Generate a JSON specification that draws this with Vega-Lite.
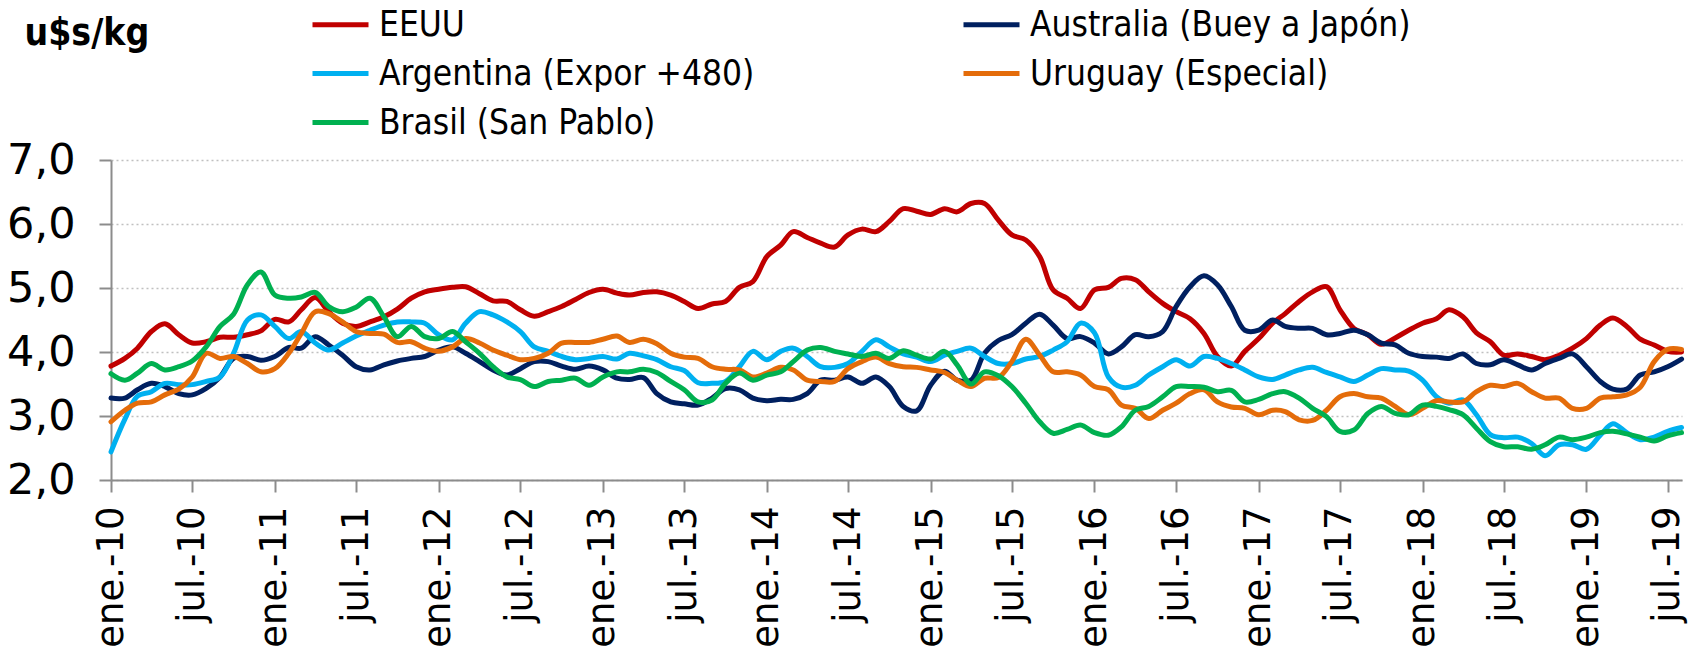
{
  "$schema": "https://vega.github.io/schema/vega-lite/v6.json",
  "width": 1571,
  "height": 320,
  "autosize": {"type": "none"},
  "padding": {"left": 111, "top": 160, "right": 16, "bottom": 174},
  "background": "white",
  "config": {"view": {"stroke": null}},
  "data": {"values": [
    {"d":"2010-01","E":3.78,"AR":2.44,"BR":3.66,"AU":3.28,"UY":2.91},
    {"d":"2010-02","E":3.90,"AR":2.95,"BR":3.56,"AU":3.28,"UY":3.09},
    {"d":"2010-03","E":4.06,"AR":3.31,"BR":3.67,"AU":3.41,"UY":3.20},
    {"d":"2010-04","E":4.32,"AR":3.38,"BR":3.82,"AU":3.51,"UY":3.22},
    {"d":"2010-05","E":4.44,"AR":3.51,"BR":3.72,"AU":3.46,"UY":3.33},
    {"d":"2010-06","E":4.27,"AR":3.49,"BR":3.77,"AU":3.35,"UY":3.42},
    {"d":"2010-07","E":4.14,"AR":3.49,"BR":3.86,"AU":3.33,"UY":3.61},
    {"d":"2010-08","E":4.16,"AR":3.54,"BR":4.08,"AU":3.43,"UY":3.98},
    {"d":"2010-09","E":4.23,"AR":3.61,"BR":4.40,"AU":3.61,"UY":3.90},
    {"d":"2010-10","E":4.23,"AR":3.98,"BR":4.59,"AU":3.90,"UY":3.93},
    {"d":"2010-11","E":4.27,"AR":4.50,"BR":5.05,"AU":3.93,"UY":3.82},
    {"d":"2010-12","E":4.33,"AR":4.58,"BR":5.25,"AU":3.87,"UY":3.69},
    {"d":"2011-01","E":4.51,"AR":4.40,"BR":4.89,"AU":3.93,"UY":3.74},
    {"d":"2011-02","E":4.47,"AR":4.21,"BR":4.84,"AU":4.07,"UY":3.98},
    {"d":"2011-03","E":4.66,"AR":4.32,"BR":4.86,"AU":4.06,"UY":4.29},
    {"d":"2011-04","E":4.85,"AR":4.14,"BR":4.93,"AU":4.24,"UY":4.63},
    {"d":"2011-05","E":4.63,"AR":4.03,"BR":4.71,"AU":4.11,"UY":4.60},
    {"d":"2011-06","E":4.45,"AR":4.14,"BR":4.63,"AU":3.95,"UY":4.47},
    {"d":"2011-07","E":4.40,"AR":4.25,"BR":4.70,"AU":3.77,"UY":4.32},
    {"d":"2011-08","E":4.47,"AR":4.34,"BR":4.84,"AU":3.72,"UY":4.29},
    {"d":"2011-09","E":4.55,"AR":4.42,"BR":4.55,"AU":3.80,"UY":4.28},
    {"d":"2011-10","E":4.67,"AR":4.47,"BR":4.24,"AU":3.86,"UY":4.15},
    {"d":"2011-11","E":4.84,"AR":4.47,"BR":4.40,"AU":3.90,"UY":4.16},
    {"d":"2011-12","E":4.94,"AR":4.45,"BR":4.24,"AU":3.93,"UY":4.06},
    {"d":"2012-01","E":4.98,"AR":4.27,"BR":4.21,"AU":4.03,"UY":4.01},
    {"d":"2012-02","E":5.01,"AR":4.19,"BR":4.32,"AU":4.08,"UY":4.08},
    {"d":"2012-03","E":5.02,"AR":4.45,"BR":4.16,"AU":3.98,"UY":4.21},
    {"d":"2012-04","E":4.91,"AR":4.63,"BR":3.98,"AU":3.85,"UY":4.14},
    {"d":"2012-05","E":4.80,"AR":4.58,"BR":3.77,"AU":3.72,"UY":4.03},
    {"d":"2012-06","E":4.79,"AR":4.47,"BR":3.61,"AU":3.64,"UY":3.95},
    {"d":"2012-07","E":4.66,"AR":4.32,"BR":3.57,"AU":3.74,"UY":3.88},
    {"d":"2012-08","E":4.56,"AR":4.08,"BR":3.46,"AU":3.85,"UY":3.90},
    {"d":"2012-09","E":4.63,"AR":4.01,"BR":3.54,"AU":3.85,"UY":3.98},
    {"d":"2012-10","E":4.71,"AR":3.93,"BR":3.56,"AU":3.78,"UY":4.14},
    {"d":"2012-11","E":4.82,"AR":3.88,"BR":3.59,"AU":3.73,"UY":4.15},
    {"d":"2012-12","E":4.93,"AR":3.90,"BR":3.48,"AU":3.78,"UY":4.15},
    {"d":"2013-01","E":4.98,"AR":3.93,"BR":3.61,"AU":3.72,"UY":4.20},
    {"d":"2013-02","E":4.92,"AR":3.89,"BR":3.69,"AU":3.59,"UY":4.25},
    {"d":"2013-03","E":4.89,"AR":3.98,"BR":3.69,"AU":3.57,"UY":4.15},
    {"d":"2013-04","E":4.93,"AR":3.94,"BR":3.73,"AU":3.60,"UY":4.20},
    {"d":"2013-05","E":4.94,"AR":3.88,"BR":3.68,"AU":3.35,"UY":4.13},
    {"d":"2013-06","E":4.89,"AR":3.77,"BR":3.54,"AU":3.22,"UY":3.98},
    {"d":"2013-07","E":4.79,"AR":3.71,"BR":3.41,"AU":3.19,"UY":3.92},
    {"d":"2013-08","E":4.68,"AR":3.52,"BR":3.22,"AU":3.17,"UY":3.90},
    {"d":"2013-09","E":4.75,"AR":3.51,"BR":3.25,"AU":3.28,"UY":3.77},
    {"d":"2013-10","E":4.79,"AR":3.54,"BR":3.51,"AU":3.43,"UY":3.73},
    {"d":"2013-11","E":5.01,"AR":3.77,"BR":3.67,"AU":3.41,"UY":3.72},
    {"d":"2013-12","E":5.10,"AR":4.01,"BR":3.56,"AU":3.28,"UY":3.61},
    {"d":"2014-01","E":5.49,"AR":3.88,"BR":3.64,"AU":3.24,"UY":3.67},
    {"d":"2014-02","E":5.67,"AR":4.01,"BR":3.69,"AU":3.26,"UY":3.76},
    {"d":"2014-03","E":5.88,"AR":4.06,"BR":3.85,"AU":3.26,"UY":3.72},
    {"d":"2014-04","E":5.79,"AR":3.93,"BR":4.03,"AU":3.35,"UY":3.56},
    {"d":"2014-05","E":5.70,"AR":3.77,"BR":4.07,"AU":3.56,"UY":3.54},
    {"d":"2014-06","E":5.64,"AR":3.76,"BR":4.01,"AU":3.56,"UY":3.54},
    {"d":"2014-07","E":5.83,"AR":3.82,"BR":3.97,"AU":3.61,"UY":3.74},
    {"d":"2014-08","E":5.92,"AR":4.01,"BR":3.93,"AU":3.51,"UY":3.85},
    {"d":"2014-09","E":5.88,"AR":4.19,"BR":3.98,"AU":3.61,"UY":3.92},
    {"d":"2014-10","E":6.04,"AR":4.08,"BR":3.90,"AU":3.46,"UY":3.82},
    {"d":"2014-11","E":6.24,"AR":3.97,"BR":4.02,"AU":3.15,"UY":3.77},
    {"d":"2014-12","E":6.20,"AR":3.92,"BR":3.95,"AU":3.08,"UY":3.76},
    {"d":"2015-01","E":6.15,"AR":3.85,"BR":3.89,"AU":3.48,"UY":3.72},
    {"d":"2015-02","E":6.24,"AR":3.95,"BR":4.01,"AU":3.70,"UY":3.68},
    {"d":"2015-03","E":6.19,"AR":4.01,"BR":3.80,"AU":3.56,"UY":3.56},
    {"d":"2015-04","E":6.32,"AR":4.06,"BR":3.50,"AU":3.56,"UY":3.46},
    {"d":"2015-05","E":6.32,"AR":3.93,"BR":3.69,"AU":3.98,"UY":3.59},
    {"d":"2015-06","E":6.06,"AR":3.82,"BR":3.63,"AU":4.18,"UY":3.60},
    {"d":"2015-07","E":5.83,"AR":3.82,"BR":3.46,"AU":4.27,"UY":3.85},
    {"d":"2015-08","E":5.75,"AR":3.89,"BR":3.20,"AU":4.45,"UY":4.20},
    {"d":"2015-09","E":5.49,"AR":3.93,"BR":2.91,"AU":4.59,"UY":3.95},
    {"d":"2015-10","E":4.97,"AR":4.03,"BR":2.73,"AU":4.42,"UY":3.69},
    {"d":"2015-11","E":4.84,"AR":4.16,"BR":2.79,"AU":4.21,"UY":3.69},
    {"d":"2015-12","E":4.68,"AR":4.45,"BR":2.86,"AU":4.24,"UY":3.64},
    {"d":"2016-01","E":4.97,"AR":4.30,"BR":2.74,"AU":4.14,"UY":3.46},
    {"d":"2016-02","E":5.01,"AR":3.61,"BR":2.70,"AU":3.97,"UY":3.41},
    {"d":"2016-03","E":5.15,"AR":3.45,"BR":2.83,"AU":4.08,"UY":3.17},
    {"d":"2016-04","E":5.13,"AR":3.48,"BR":3.09,"AU":4.27,"UY":3.12},
    {"d":"2016-05","E":4.94,"AR":3.64,"BR":3.15,"AU":4.24,"UY":2.96},
    {"d":"2016-06","E":4.76,"AR":3.77,"BR":3.30,"AU":4.32,"UY":3.09},
    {"d":"2016-07","E":4.63,"AR":3.88,"BR":3.46,"AU":4.71,"UY":3.20},
    {"d":"2016-08","E":4.52,"AR":3.78,"BR":3.46,"AU":5.02,"UY":3.35},
    {"d":"2016-09","E":4.29,"AR":3.93,"BR":3.45,"AU":5.19,"UY":3.41},
    {"d":"2016-10","E":3.93,"AR":3.90,"BR":3.38,"AU":5.05,"UY":3.22},
    {"d":"2016-11","E":3.78,"AR":3.82,"BR":3.40,"AU":4.71,"UY":3.14},
    {"d":"2016-12","E":4.01,"AR":3.72,"BR":3.22,"AU":4.34,"UY":3.12},
    {"d":"2017-01","E":4.21,"AR":3.61,"BR":3.26,"AU":4.34,"UY":3.02},
    {"d":"2017-02","E":4.45,"AR":3.57,"BR":3.35,"AU":4.50,"UY":3.09},
    {"d":"2017-03","E":4.60,"AR":3.64,"BR":3.38,"AU":4.40,"UY":3.07},
    {"d":"2017-04","E":4.79,"AR":3.72,"BR":3.28,"AU":4.37,"UY":2.94},
    {"d":"2017-05","E":4.94,"AR":3.76,"BR":3.12,"AU":4.37,"UY":2.93},
    {"d":"2017-06","E":5.02,"AR":3.68,"BR":2.99,"AU":4.27,"UY":3.09},
    {"d":"2017-07","E":4.66,"AR":3.61,"BR":2.76,"AU":4.29,"UY":3.30},
    {"d":"2017-08","E":4.37,"AR":3.54,"BR":2.78,"AU":4.34,"UY":3.35},
    {"d":"2017-09","E":4.27,"AR":3.64,"BR":3.04,"AU":4.27,"UY":3.30},
    {"d":"2017-10","E":4.12,"AR":3.74,"BR":3.15,"AU":4.14,"UY":3.28},
    {"d":"2017-11","E":4.22,"AR":3.72,"BR":3.04,"AU":4.11,"UY":3.15},
    {"d":"2017-12","E":4.34,"AR":3.70,"BR":3.02,"AU":3.98,"UY":3.02},
    {"d":"2018-01","E":4.45,"AR":3.56,"BR":3.17,"AU":3.93,"UY":3.12},
    {"d":"2018-02","E":4.52,"AR":3.30,"BR":3.15,"AU":3.92,"UY":3.24},
    {"d":"2018-03","E":4.66,"AR":3.20,"BR":3.10,"AU":3.90,"UY":3.22},
    {"d":"2018-04","E":4.55,"AR":3.25,"BR":3.02,"AU":3.97,"UY":3.22},
    {"d":"2018-05","E":4.30,"AR":3.02,"BR":2.81,"AU":3.82,"UY":3.38},
    {"d":"2018-06","E":4.16,"AR":2.71,"BR":2.60,"AU":3.80,"UY":3.48},
    {"d":"2018-07","E":3.95,"AR":2.66,"BR":2.52,"AU":3.88,"UY":3.46},
    {"d":"2018-08","E":3.97,"AR":2.67,"BR":2.52,"AU":3.80,"UY":3.51},
    {"d":"2018-09","E":3.93,"AR":2.57,"BR":2.48,"AU":3.72,"UY":3.38},
    {"d":"2018-10","E":3.88,"AR":2.38,"BR":2.55,"AU":3.82,"UY":3.28},
    {"d":"2018-11","E":3.95,"AR":2.55,"BR":2.67,"AU":3.90,"UY":3.28},
    {"d":"2018-12","E":4.06,"AR":2.55,"BR":2.63,"AU":3.97,"UY":3.12},
    {"d":"2019-01","E":4.21,"AR":2.48,"BR":2.67,"AU":3.77,"UY":3.12},
    {"d":"2019-02","E":4.42,"AR":2.70,"BR":2.74,"AU":3.54,"UY":3.28},
    {"d":"2019-03","E":4.53,"AR":2.88,"BR":2.76,"AU":3.42,"UY":3.30},
    {"d":"2019-04","E":4.40,"AR":2.74,"BR":2.72,"AU":3.42,"UY":3.33},
    {"d":"2019-05","E":4.20,"AR":2.63,"BR":2.67,"AU":3.64,"UY":3.45},
    {"d":"2019-06","E":4.11,"AR":2.67,"BR":2.61,"AU":3.69,"UY":3.85},
    {"d":"2019-07","E":4.01,"AR":2.76,"BR":2.69,"AU":3.77,"UY":4.04},
    {"d":"2019-08","E":4.00,"AR":2.82,"BR":2.74,"AU":3.89,"UY":4.04}
  ]},
  "transform": [
    {"fold": ["E", "AU", "AR", "UY", "BR"], "as": ["serie", "v"]}
  ],
  "mark": {"type": "line", "strokeWidth": 5, "interpolate": "catmull-rom", "strokeCap": "round", "strokeJoin": "round"},
  "encoding": {
    "x": {
      "field": "d", "type": "temporal",
      "scale": {"type": "utc", "domain": [{"year": 2010, "month": 1, "date": 1, "utc": true}, {"year": 2019, "month": 8, "date": 2, "utc": true}], "nice": false},
      "axis": {
        "title": null,
        "tickCount": {"interval": "month", "step": 6},
        "labelExpr": "(utcmonth(datum.value) == 0 ? 'ene.-' : 'jul.-') + utcFormat(datum.value, '%y')",
        "labelAngle": 270,
        "labelFont": "DejaVu Sans",
        "labelFontSize": 37,
        "labelColor": "#000000",
        "labelPadding": 14,
        "labelFlush": false,
        "labelOverlap": false,
        "labelBound": false,
        "tickSize": 12,
        "tickWidth": 2,
        "tickColor": "#8c8c8c",
        "domainColor": "#8c8c8c",
        "domainWidth": 2,
        "grid": false
      }
    },
    "y": {
      "field": "v", "type": "quantitative",
      "scale": {"domain": [2, 7], "nice": false, "zero": false},
      "axis": {
        "values": [2, 3, 4, 5, 6, 7],
        "labelExpr": "replace(format(datum.value, '.1f'), '.', ',')",
        "labelFont": "DejaVu Sans",
        "labelFontSize": 43,
        "labelColor": "#000000",
        "labelPadding": 24,
        "tickSize": 12,
        "tickWidth": 2,
        "tickColor": "#8c8c8c",
        "domainColor": "#8c8c8c",
        "domainWidth": 2,
        "grid": true,
        "gridColor": "#c0c0c0",
        "gridDash": [2, 3],
        "gridWidth": 1.5,
        "title": "u$s/kg",
        "titleAngle": 0,
        "titleX": -87,
        "titleY": -116,
        "titleAlign": "left",
        "titleBaseline": "alphabetic",
        "titleFont": "DejaVu Sans Condensed",
        "titleFontSize": 37,
        "titleFontWeight": "bold",
        "titleColor": "#000000"
      }
    },
    "color": {
      "field": "serie", "type": "nominal",
      "scale": {"domain": ["E", "AR", "BR", "AU", "UY"], "range": ["#C00000", "#00B0F0", "#00B050", "#002060", "#E46C0A"]},
      "legend": {
        "title": null,
        "orient": "none",
        "legendX": 199,
        "legendY": -166,
        "columns": 2,
        "columnPadding": 198,
        "rowPadding": 0,
        "padding": 0,
        "symbolType": "stroke",
        "symbolSize": 3136,
        "symbolStrokeWidth": 5,
        "labelFont": "DejaVu Sans Condensed",
        "labelFontSize": 35,
        "labelColor": "#000000",
        "labelOffset": 8,
        "labelLimit": 0,
        "labelExpr": "datum.label == 'E' ? 'EEUU' : datum.label == 'AU' ? ' Australia (Buey a Japón)' : datum.label == 'AR' ? 'Argentina (Expor +480)' : datum.label == 'UY' ? 'Uruguay (Especial)' : 'Brasil (San Pablo)'"
      }
    }
  }
}
